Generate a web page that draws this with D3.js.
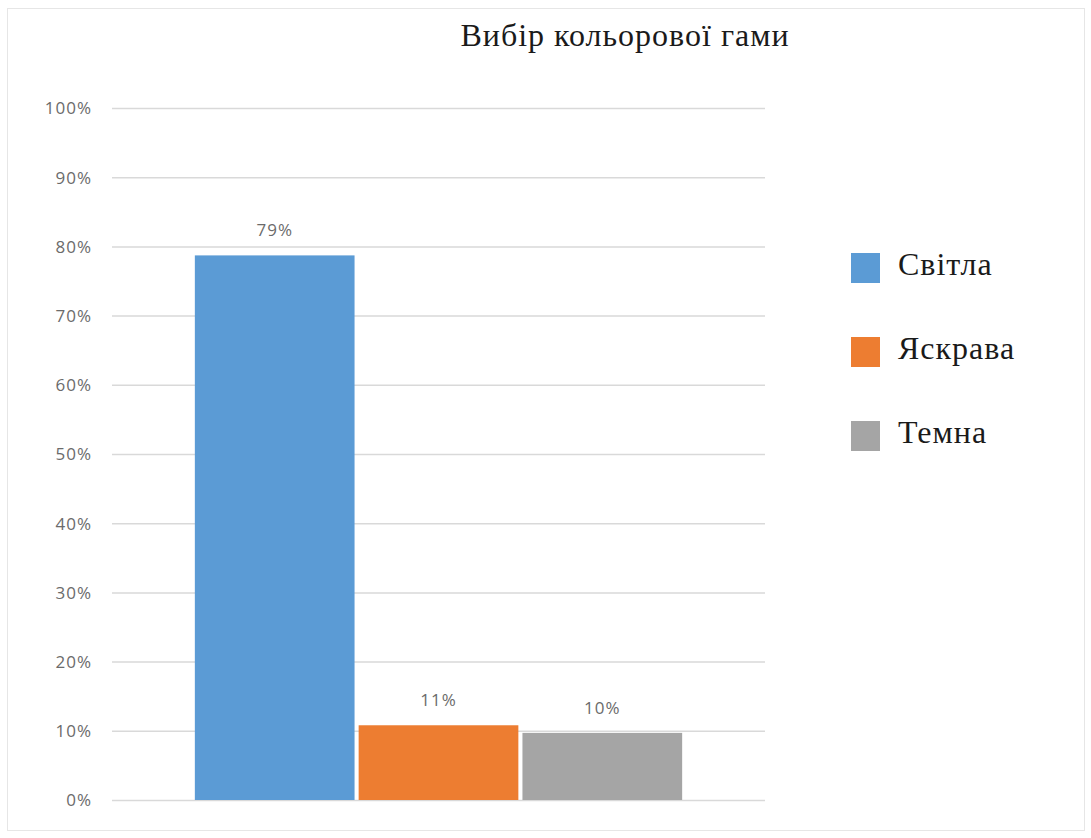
<!DOCTYPE html>
<html>
<head>
<meta charset="utf-8">
<script src="https://cdn.jsdelivr.net/npm/d3@7"></script>
<style>
  body { margin: 0; background: #fff; }
  .tick text { font-family: "Open Sans", sans-serif; font-size: 17px; fill: #6b6b6b; letter-spacing: 1px; }
  .tick line { stroke: #d9d9d9; stroke-width: 1.5; }
</style>
</head>
<body>
<div class="chart"></div>
<script>
// chart data
var title = "Вибір кольорової гами";
var category = ["Вибір"];
var series = ["Світла", "Яскрава", "Темна"];
var values = [0.787, 0.108, 0.097];
var labels = ["79%", "11%", "10%"];
var colors = ["#5B9BD5", "#ED7D31", "#A5A5A5"];
var yTicks = [0, 0.1, 0.2, 0.3, 0.4, 0.5, 0.6, 0.7, 0.8, 0.9, 1.0];

var svgWidth = 1091;
var svgHeight = 838;
var margin = {top: 108, right: 326, bottom: 38, left: 112};
var chartWidth = svgWidth - margin.left - margin.right;
var chartHeight = svgHeight - margin.top - margin.bottom;

var svg = d3.select(".chart")
  .append("svg")
  .attr("width", svgWidth)
  .attr("height", svgHeight);

// outer frame
svg.append("rect")
  .attr("x", 7.5).attr("y", 8.5)
  .attr("width", svgWidth - 14).attr("height", svgHeight - 16)
  .attr("fill", "none")
  .attr("stroke", "#e6e6e6");

var chart = svg.append("g")
  .attr("transform", "translate(" + margin.left + "," + margin.top + ")");

var y = d3.scaleLinear().domain([0, 1]).range([chartHeight, 0]);

var x0 = d3.scaleBand().domain(category).range([0, chartWidth])
  .paddingInner(0).paddingOuter(0.17);
var x1 = d3.scaleBand().domain(series).range([0, x0.bandwidth()])
  .paddingInner(0.025).paddingOuter(0);

// gridlines + y labels
var leftAxis = d3.axisLeft(y)
  .tickValues(yTicks)
  .tickFormat(d3.format(".0%"))
  .tickSize(-chartWidth)
  .tickPadding(20);

var yAxis = chart.append("g").call(leftAxis);
yAxis.select(".domain").remove();
yAxis.selectAll(".tick text").attr("dy", "0.35em");

// bars
var group = chart.append("g")
  .attr("transform", "translate(" + x0(category[0]) + ",0)");

group.selectAll("rect")
  .data(series)
  .enter().append("rect")
  .attr("x", function(d) { return x1(d); })
  .attr("y", function(d, i) { return y(values[i]); })
  .attr("width", x1.bandwidth())
  .attr("height", function(d, i) { return chartHeight - y(values[i]); })
  .attr("fill", function(d, i) { return colors[i]; });

// value labels
group.selectAll("text.val")
  .data(series)
  .enter().append("text")
  .attr("class", "val")
  .attr("x", function(d) { return x1(d) + x1.bandwidth() / 2; })
  .attr("y", function(d, i) { return y(values[i]) - 19; })
  .attr("text-anchor", "middle")
  .style("font-family", "'Open Sans', sans-serif")
  .style("font-size", "17px")
  .style("letter-spacing", "1px")
  .style("fill", "#6b6b6b")
  .text(function(d, i) { return labels[i]; });

// title
svg.append("text")
  .attr("x", 625)
  .attr("y", 46)
  .attr("text-anchor", "middle")
  .style("font-family", "'Liberation Serif', serif")
  .style("font-size", "32px")
  .style("letter-spacing", "1px")
  .style("fill", "#1a1a1a")
  .text(title);

// legend
var legend = svg.append("g").attr("transform", "translate(851,253)");
var item = legend.selectAll("g")
  .data(series)
  .enter().append("g")
  .attr("transform", function(d, i) { return "translate(0," + (i * 84) + ")"; });

item.append("rect")
  .attr("width", 29).attr("height", 30)
  .attr("fill", function(d, i) { return colors[i]; });

item.append("text")
  .attr("x", 47)
  .attr("y", 22)
  .style("font-family", "'Liberation Serif', serif")
  .style("font-size", "32px")
  .style("letter-spacing", "1px")
  .style("fill", "#1a1a1a")
  .text(function(d) { return d; });
</script>
</body>
</html>
